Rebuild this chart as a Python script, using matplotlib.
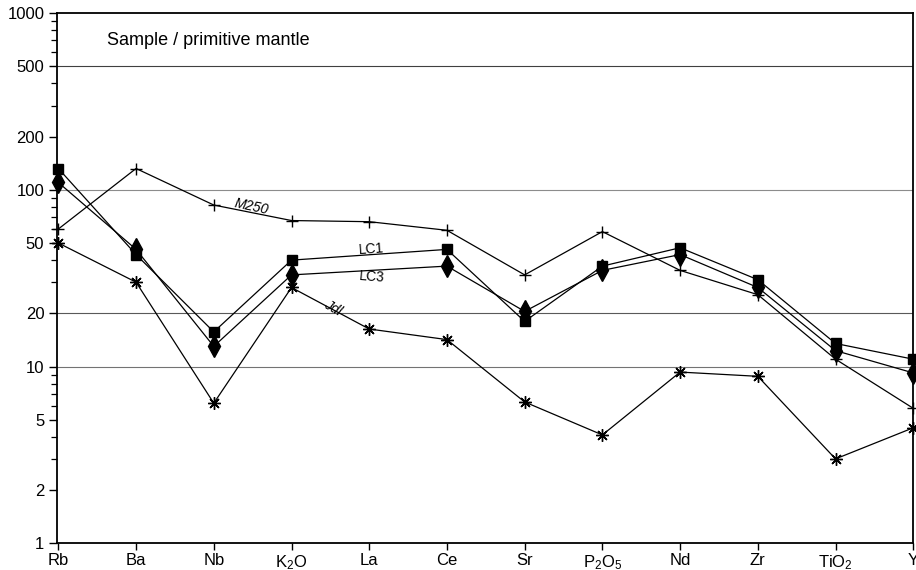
import matplotlib.pyplot as plt
import numpy as np
from matplotlib.ticker import FixedLocator, NullFormatter

plt.rcParams['font.family'] = ['Liberation Sans', 'DejaVu Sans']
plt.rcParams['mathtext.default'] = 'regular'

elements = ['Rb', 'Ba', 'Nb', 'K$_2$O', 'La', 'Ce', 'Sr', 'P$_2$O$_5$',
            'Nd', 'Zr', 'TiO$_2$', 'Y']

# sample / primitive mantle values (nan = not analysed)
m250 = [60, 132, 82, 67, 66, 59, 33, 58, 35, 25.5, 11, 5.8]
lc1 = [132, 43, 15.7, 40, np.nan, 46, 18, 37, 47, 31, 13.5, 11]
lc3 = [110, 46, 13, 33, np.nan, 37, 20.5, 35, 43, 28, 12.3, 9.2]
jdl = [50, 30, 6.2, 28, 16.3, 14.2, 6.3, 4.1, 9.3, 8.8, 3.0, 4.5]

fig = plt.figure(figsize=(9.16, 5.70), dpi=100)
ax = fig.add_axes([0.062, 0.047, 0.935, 0.930])

x = np.arange(len(elements))


def draw(vals, marker, ms, **kw):
    v = np.array(vals, dtype=float)
    ok = ~np.isnan(v)
    ax.plot(x[ok], v[ok], color='black', lw=0.9, marker=marker, ms=ms,
            mfc='black', mec='black', clip_on=False, **kw)


draw(m250, '+', 9, mew=1.0)
draw(lc1, 's', 7.5)
draw(lc3, 'd', 11)
draw(jdl, (8, 2, 0), 9, mew=1.0)

# horizontal reference lines
for yv, c in [(500, '0.25'), (100, '0.55'), (20, '0.35'), (10, '0.45')]:
    ax.axhline(yv, color=c, lw=0.8, zorder=0)

ax.set_yscale('log')
ax.set_ylim(1, 1000)
ax.set_xlim(-0.02, 11)

major = [1, 2, 5, 10, 20, 50, 100, 200, 500, 1000]
ax.yaxis.set_major_locator(FixedLocator(major))
ax.set_yticklabels([str(m) for m in major])
minor = [v * d for d in [1, 10, 100] for v in range(2, 10) if v not in (2, 5)]
ax.yaxis.set_minor_locator(FixedLocator(minor))
ax.yaxis.set_minor_formatter(NullFormatter())

ax.set_xticks(x)
ax.set_xticklabels(elements)
ax.tick_params(axis='both', direction='out', labelsize=12, width=1.0)
ax.tick_params(axis='y', which='major', length=6, pad=3)
ax.tick_params(axis='y', which='minor', length=4, width=0.9)
ax.tick_params(axis='x', length=5, pad=2)

for s in ax.spines.values():
    s.set_linewidth(1.3)

ax.text(0.63, 700, 'Sample / primitive mantle', fontsize=13, va='center')

ax.text(2.49, 80, 'M250', fontsize=10, rotation=-12, ha='center',
        va='center', style='italic')
ax.text(4.02, 46, 'LC1', fontsize=10, rotation=4, ha='center', va='center')
ax.text(4.04, 32, 'LC3', fontsize=10, rotation=-4, ha='center',
        va='center')
ax.text(3.53, 21.5, 'Jdl', fontsize=10, rotation=-30, ha='center',
        va='center', style='italic')

fig.savefig('out.png', dpi=100)
